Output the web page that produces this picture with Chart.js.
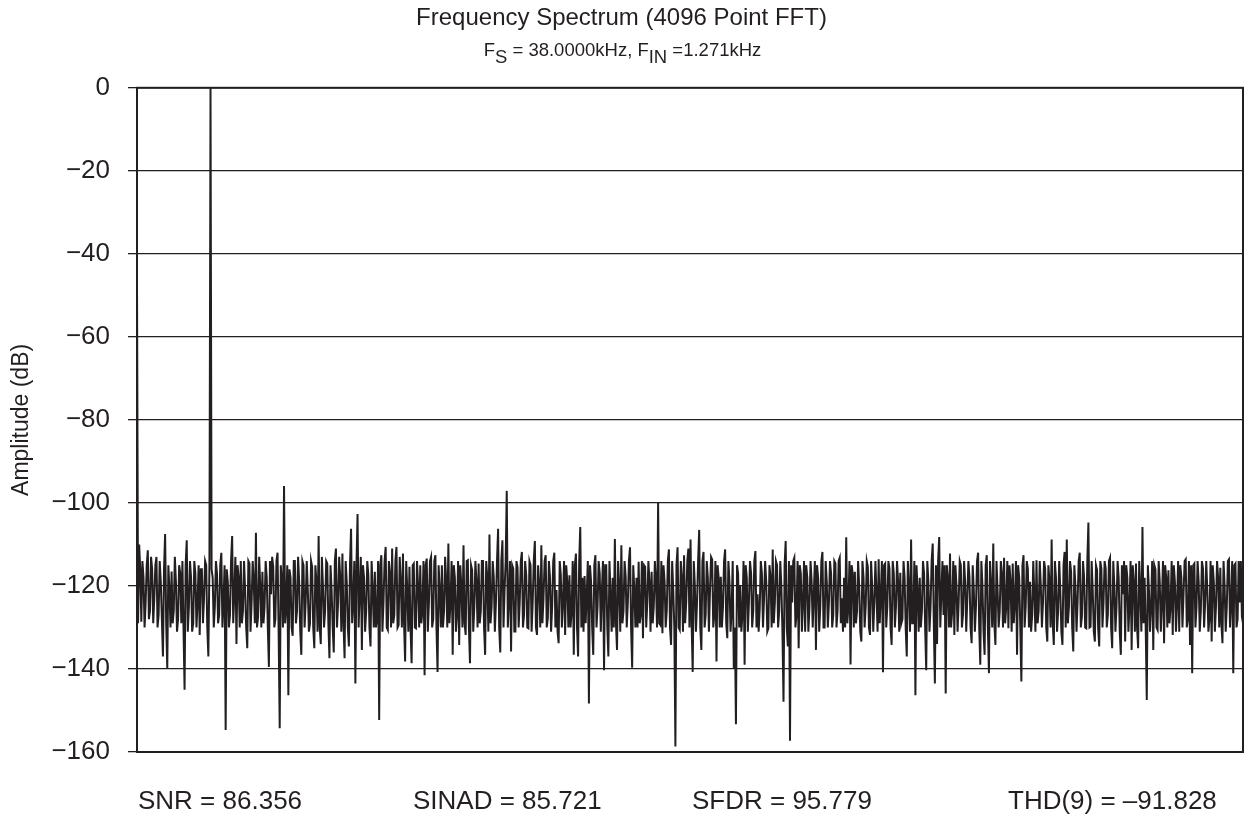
<!DOCTYPE html>
<html>
<head>
<meta charset="utf-8">
<title>Frequency Spectrum (4096 Point FFT)</title>
<script src="https://cdn.jsdelivr.net/npm/chart.js@4.4.1/dist/chart.umd.min.js"></script>
<style>
  html, body { margin: 0; padding: 0; background: #ffffff; }
  #wrap { width: 1245px; height: 814px; position: relative; }
</style>
</head>
<body>
<div id="wrap"><canvas id="fftChart"></canvas></div>
<script>
// amplitude in dB, every 2nd FFT bin starting at bin 1 (bin 137 is the input tone)
var amplitudeDb = [
  -47, -129, -110, -116, -128.6, -114, -118, -130, -124, -115, -111.4, -128, -126, -113, -116, -129, -123, -115, -113, -130,
  -127, -114, -119, -128, -137, -116, -107.5, -129, -140, -115, -121, -130, -116.5, -129, -126, -113, -119, -131, -128, -115,
  -117, -129, -114, -130, -145, -115, -109, -131, -125, -114, -118, -131, -129, -114, -117, -130, -124, -115, -131.8, -116,
  -116, -129, -123, -114, -115, -130, -137, -115, 0, -116, -118, -130, -125, -114, -117, -129, -127, -115, -112, -130,
  -124, -115, -154.7, -116, -119, -130, -127, -114, -108, -129, -122, -113, -134, -115, -118, -130, -114, -129, -126, -114,
  -121, -130, -135, -114, -114.6, -131, -124, -114, -119, -129, -107.2, -130, -127.4, -113, -120, -130, -116.6, -129, -125, -114,
  -118, -130, -139.5, -114, -122, -113, -115.4, -130, -128, -114, -112, -131, -154.3, -115, -119, -130, -95.9, -129, -125, -115,
  -146.3, -116, -118, -130, -132, -114, -114, -129, -126, -113, -119, -131, -136.6, -114, -115, -130, -124, -114, -121, -131,
  -129, -114, -115.4, -130, -135, -115, -119, -131, -108, -130, -134, -113, -120, -130, -126, -114, -114.6, -129, -137.4, -115,
  -121, -130, -136, -114, -111, -130, -124, -113, -118, -131, -112.2, -129, -137.4, -114, -119, -130, -134.6, -115, -106.2, -129,
  -124, -114, -143.5, -115, -102.7, -130, -121, -113, -135.4, -115, -118, -131, -126, -114, -117.4, -130, -134.6, -114, -121, -130,
  -116.6, -130, -128, -114, -152.3, -115, -112.6, -131, -124, -114, -110.6, -130, -130.6, -114, -117, -130, -111, -129, -127, -114,
  -110.6, -130, -129.4, -113, -119, -130, -112.2, -129, -138.2, -114, -121, -131, -115.4, -130, -138.6, -115, -114.6, -130, -130.2, -114,
  -120, -130, -115, -129, -126, -114, -141.5, -115, -113.4, -131, -124, -114, -113, -130, -128, -114, -112.6, -130, -140.7, -115,
  -121, -130, -115, -130, -126, -113, -119, -130, -109.8, -129, -124, -114, -136.6, -115, -118, -131, -127, -114, -134.2, -115,
  -120, -130, -110.2, -129, -131.8, -114, -113.8, -130, -138.6, -115, -116.2, -131, -125, -114, -119, -130, -114.6, -129, -126, -114,
  -114, -130, -136.6, -114, -118, -131, -107.6, -129, -125, -114, -118, -131, -124, -114, -106.2, -130, -136, -114, -109, -130,
  -121, -114, -97.1, -130, -123, -114, -135.8, -115, -115.8, -131, -131, -114, -115.6, -130, -124, -114, -111.8, -130, -127, -114,
  -117.4, -130, -130.2, -114, -115, -131, -124, -114, -109.2, -130, -131.8, -115, -120, -130, -110.2, -129, -123, -114, -112.6, -130,
  -127.8, -114, -118, -131, -125, -114, -112, -130, -121, -131, -133.8, -114, -117.4, -130, -124, -114, -131.8, -115, -119, -130,
  -117.4, -130, -126, -114, -136.6, -115, -112.2, -130, -137, -114, -105.8, -130, -118, -131, -117.6, -129, -122, -114, -148.3, -115,
  -119, -130, -136.6, -115, -112.6, -130, -125, -114, -117, -131, -121, -114, -140.3, -115, -115, -130, -137, -114, -122, -131,
  -118, -130, -108.7, -129, -135.4, -114, -120, -131, -110.2, -129, -126, -114, -117.8, -130, -124, -114, -110.7, -130, -139.7, -115,
  -121, -130, -118, -130, -114.2, -129, -127, -114, -132.6, -115, -115.4, -130, -124, -114, -119, -131, -116.6, -129, -125, -114,
  -119, -130, -99.9, -129, -129.4, -114, -131.4, -115, -119, -130, -126, -114, -111.2, -130, -134.2, -114, -121, -130, -158.7, -115,
  -110.7, -130, -130.6, -114, -118, -131, -112.6, -129, -124, -114, -111, -130, -108.8, -129, -140.7, -114, -120, -131, -124, -114,
  -106.5, -130, -135.4, -114, -111.8, -130, -127, -114, -118, -131, -121, -113, -113.6, -130, -127, -114, -138.2, -115, -118, -130,
  -117.8, -130, -125, -114, -111.2, -129, -132.6, -114, -119, -131, -126, -114, -139.9, -130, -153.3, -115, -117, -130, -120, -131,
  -127, -114, -139, -115, -118, -131, -124, -114, -117, -130, -126, -114, -111.6, -130, -122, -131, -125.4, -114, -117, -130,
  -123, -114, -119, -131, -130.2, -115, -118, -130, -111.2, -129, -124, -114, -115, -130, -126, -114, -120, -131, -147.9, -115,
  -109.2, -130, -134.6, -114, -157.3, -115, -124, -114, -113.2, -130, -127, -114, -135, -115, -117, -131, -124, -114, -131, -115,
  -118, -131, -125, -114, -119, -130, -122, -114, -135.4, -115, -118, -131, -125, -114, -111.8, -130, -130, -114, -119, -130,
  -124, -114, -117, -130, -127, -114, -114.6, -130, -126, -114, -113.2, -129, -123, -131, -118, -130, -108.3, -129, -125, -114,
  -138.9, -115, -117, -130, -116.6, -129, -126, -114, -120, -131, -133.4, -114, -118, -130, -125, -114, -115.4, -130, -131.8, -114,
  -120, -131, -124, -114, -122, -131, -113.6, -129, -122, -114, -140.8, -115, -114.6, -130, -125, -114, -115.8, -130, -134.2, -114,
  -117, -130, -125, -114, -119, -131, -116.8, -129, -128, -114, -118, -130, -137, -114, -120, -131, -108.8, -129, -129, -114,
  -146.3, -115, -121, -131, -118, -130, -126, -114, -117, -130, -140.3, -114, -119, -131, -125, -114, -109.8, -129, -143.5, -115,
  -134, -114, -108.2, -130, -122, -114, -127, -115, -145.9, -115, -118, -130, -112.2, -130, -126, -114, -131.8, -115, -120, -131,
  -124, -114, -115, -130, -127, -114, -119, -131, -123, -114, -118, -130, -133.8, -115, -121, -131, -125, -114, -112, -130,
  -139, -114, -120, -131, -136.6, -115, -112.6, -130, -141, -114, -120, -130, -109.8, -129, -134.2, -114, -121, -130, -126, -114,
  -117, -130, -113.2, -129, -125, -114, -130.2, -115, -119, -131, -114.6, -129, -124, -114, -136.6, -115, -118, -130, -143, -115,
  -112.6, -130, -125, -114, -115.8, -130, -119, -131, -127, -114, -122, -131, -113.8, -129, -126, -114, -120, -130, -124, -114,
  -115.8, -130, -133.4, -115, -119, -130, -108.8, -129, -134.2, -114, -118, -131, -126, -114, -121, -131, -134.2, -115, -111.8, -130,
  -108.8, -129, -125, -114, -116.6, -130, -135.8, -115, -120, -131, -124, -114, -112, -130, -127.4, -114, -118, -130, -130.2, -114,
  -104.7, -130, -129.8, -114, -121, -131, -133.4, -115, -116.2, -130, -134.6, -114, -115.8, -130, -124, -114, -115.8, -130, -127, -114,
  -113.2, -130, -135, -114, -120, -131, -125, -114, -118, -131, -136.6, -115, -122, -114, -133.4, -115, -118, -131, -125, -114,
  -135.4, -115, -119, -131, -114.6, -130, -135, -114, -121, -131, -105.8, -129, -118, -130, -147.5, -115, -121, -131, -125, -114,
  -135.4, -115, -116, -130, -130.6, -114, -119, -131, -124, -114, -133.8, -115, -118, -130, -116.2, -129, -125, -114, -131.8, -115,
  -119, -131, -124, -114, -131, -115, -118, -130, -122, -114, -113.6, -130, -128, -114, -134.2, -115, -141, -115, -114.6, -130,
  -125, -114, -119, -131, -126, -114, -115.8, -130, -124, -114, -121, -131, -128, -114, -133.4, -115, -119, -131, -125, -114,
  -118, -130, -115.6, -129, -133.8, -114, -120, -131, -125, -114, -113.6, -130, -124, -114, -141, -115, -114.6, -130, -128, -114,
  -124, -114, -127.4, -129
];

// FFT bin number of each value above
var binLabels = amplitudeDb.map(function (v, i) { return 1 + 2 * i; });

var chartTitle = 'Frequency Spectrum (4096 Point FFT)';
// [text, isSubscript]
var subtitleParts = [['F', 0], ['S', 1], [' = 38.0000kHz, F', 0], ['IN', 1], [' =1.271kHz', 0]];
var statLabels = ['SNR = 86.356', 'SINAD = 85.721', 'SFDR = 95.779', 'THD(9) = \u201391.828'];
var statX = [138, 413, 692, 1008];

var ink = '#231f20';
var fontFamily = '"Liberation Sans", Arial, Helvetica, sans-serif';

// subtitle with subscripts, stats line under the plot and the frame
var fftText = {
    id: 'fftText',
    afterDatasetsDraw: function (chart) {
        var ctx = chart.ctx, a = chart.chartArea;
        ctx.save();
        ctx.strokeStyle = ink;
        ctx.lineWidth = 2;
        ctx.strokeRect(a.left, a.top, a.right - a.left, a.bottom - a.top);
        ctx.restore();
    },
    afterDraw: function (chart) {
        var ctx = chart.ctx;
        ctx.save();
        ctx.fillStyle = ink;
        ctx.textAlign = 'left';
        ctx.textBaseline = 'alphabetic';
        ctx.font = '18.5px ' + fontFamily;
        var total = 0;
        subtitleParts.forEach(function (p) { total += ctx.measureText(p[0]).width; });
        var x = chart.width / 2 - total / 2;
        subtitleParts.forEach(function (p) {
            ctx.fillText(p[0], x, p[1] ? 63 : 56);
            x += ctx.measureText(p[0]).width;
        });
        ctx.font = '26px ' + fontFamily;
        statLabels.forEach(function (s, i) {
            ctx.fillText(s, statX[i], 809);
        });
        ctx.restore();
    }
};

var ctxFft = document.getElementById('fftChart').getContext('2d');
new Chart(ctxFft, {
    type: 'line',
    data: {
        labels: binLabels,
        datasets: [{
            label: 'Amplitude',
            data: amplitudeDb,
            borderColor: ink,
            borderWidth: 2,
            pointRadius: 0,
            tension: 0,
            fill: false
        }]
    },
    options: {
        responsive: true,
        maintainAspectRatio: false,
        devicePixelRatio: 1,
        animation: false,
        layout: {
            padding: { top: 0, right: 2, bottom: 0, left: 0 }
        },
        plugins: {
            legend: { display: false },
            tooltip: { enabled: false },
            title: {
                display: true,
                text: chartTitle,
                color: ink,
                font: { family: fontFamily, size: 24, weight: 'normal' },
                padding: { top: 4, bottom: 55 }
            }
        },
        scales: {
            x: {
                type: 'category',
                ticks: { display: false },
                grid: { display: false },
                border: { display: true, color: ink, width: 2 },
                afterFit: function (s) { s.height = 62; }
            },
            y: {
                min: -160,
                max: 0,
                ticks: {
                    stepSize: 20,
                    color: ink,
                    padding: 18,
                    font: { family: fontFamily, size: 26 },
                    callback: function (v) { return v < 0 ? '\u2212' + Math.abs(v) : String(v); }
                },
                grid: {
                    color: ink,
                    lineWidth: 1.3,
                    drawTicks: true,
                    tickLength: 9
                },
                border: { display: true, color: ink, width: 2 },
                title: {
                    display: true,
                    text: 'Amplitude (dB)',
                    color: ink,
                    font: { family: fontFamily, size: 23 },
                    padding: { top: 8, bottom: 0 }
                },
                afterFit: function (s) { s.width = 137; }
            }
        }
    },
    plugins: [fftText]
});
</script>
</body>
</html>
